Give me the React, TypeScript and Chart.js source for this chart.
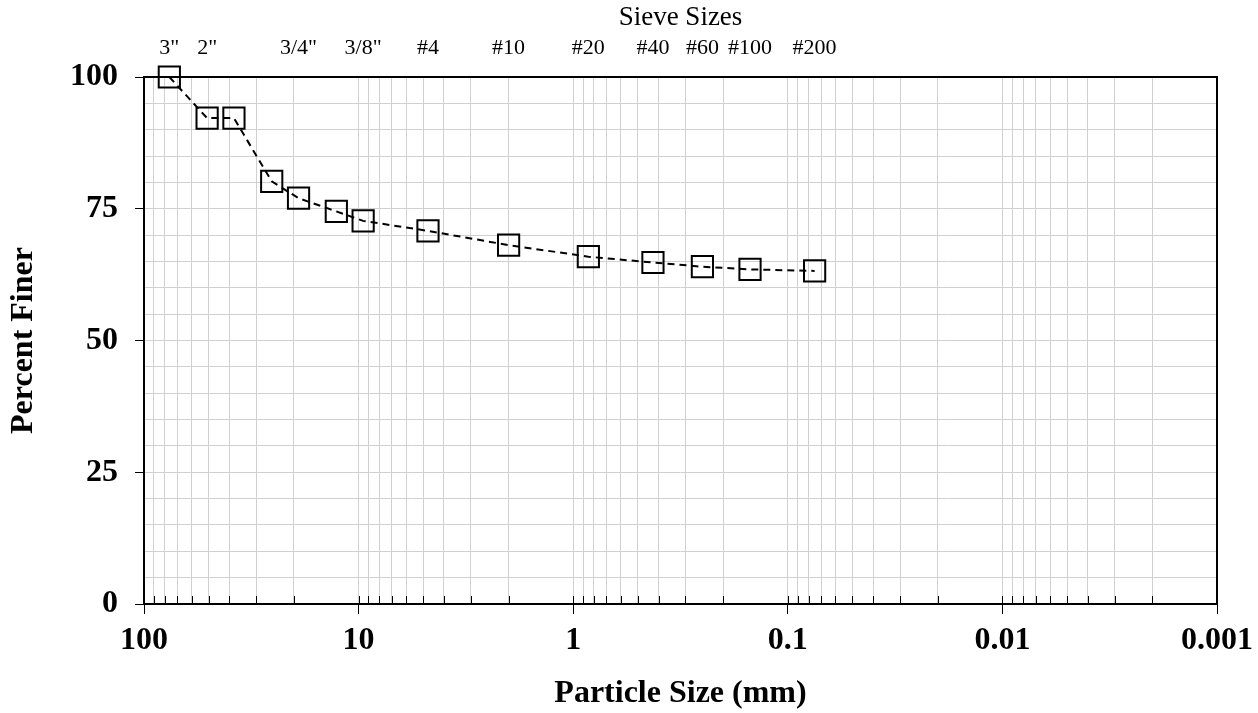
import React, { useEffect, useRef } from "react";
import { Chart, registerables } from "chart.js";

Chart.register(...registerables);

// Particle sizes (mm) of the plotted sieve results
const SIZES_MM = [76.2, 50.8, 38.1, 25.4, 19.05, 12.7, 9.525, 4.75, 2.0, 0.85, 0.425, 0.25, 0.15, 0.075];
// Percent finer for each size
const PERCENT_FINER = [100, 92.2, 92.2, 80.2, 77.0, 74.5, 72.7, 70.8, 68.1, 65.9, 64.8, 64.0, 63.5, 63.2];

// Top axis sieve labels
const SIEVE_SIZES_MM = [76.2, 50.8, 19.05, 9.525, 4.75, 2.0, 0.85, 0.425, 0.25, 0.15, 0.075];
const SIEVE_LABELS = ['3"', '2"', '3/4"', '3/8"', "#4", "#10", "#20", "#40", "#60", "#100", "#200"];

// Bottom axis decades
const DECADES = [100, 10, 1, 0.1, 0.01, 0.001];
const DECADE_LABELS = ["100", "10", "1", "0.1", "0.01", "0.001"];
const MINOR_MULTIPLIERS = [1, 2, 3, 4, 5, 6, 7, 8, 9];

// Y axis labelled ticks
const Y_LABELLED = [0, 25, 50, 75, 100];

const FONT = "'Liberation Serif', 'Times New Roman', serif";
const GRID = "#d0d0d0";

function decadeIndex(v: number): number {
  for (let i = 0; i < DECADES.length; i++) {
    if (Math.abs(v - DECADES[i]) / DECADES[i] < 1e-6) return i;
  }
  return -1;
}

function buildLogTicks(): { value: number }[] {
  const out: { value: number }[] = [];
  for (let i = DECADES.length - 1; i >= 1; i--) {
    const d = DECADES[i];
    for (const m of MINOR_MULTIPLIERS) out.push({ value: d * m });
  }
  out.push({ value: DECADES[0] });
  return out;
}

const framePlugin = {
  id: "frameAndInnerTicks",
  beforeDatasetsDraw(chart: any) {
    const { ctx, chartArea } = chart;
    const { left, right, top, bottom } = chartArea;
    const xs = chart.scales.x;
    ctx.save();
    ctx.strokeStyle = "#000";
    ctx.lineWidth = 1;
    ctx.beginPath();
    for (const t of xs.ticks) {
      const px = Math.round(xs.getPixelForValue(t.value)) + 0.5;
      ctx.moveTo(px, bottom);
      ctx.lineTo(px, bottom - 8);
    }
    ctx.stroke();
    ctx.lineWidth = 2;
    ctx.strokeRect(left, top, right - left, bottom - top);
    ctx.restore();
  },
};

export default function App() {
  const canvasRef = useRef<HTMLCanvasElement | null>(null);

  useEffect(() => {
    if (!canvasRef.current) return;
    const data = SIZES_MM.map((s, i) => ({ x: s, y: PERCENT_FINER[i] }));
    const chart = new Chart(canvasRef.current, {
      type: "scatter",
      data: {
        datasets: [
          {
            data,
            showLine: true,
            borderColor: "#000",
            borderWidth: 2,
            borderDash: [7, 5],
            tension: 0,
            pointStyle: "rect",
            pointRadius: 15,
            pointBorderWidth: 2,
            pointBorderColor: "#000",
            pointBackgroundColor: "rgba(0,0,0,0)",
            clip: false as any,
          } as any,
        ],
      },
      options: {
        animation: false,
        responsive: true,
        maintainAspectRatio: false,
        events: [],
        layout: { padding: 0 },
        plugins: { legend: { display: false }, tooltip: { enabled: false } },
        scales: {
          x: {
            type: "logarithmic",
            position: "bottom",
            min: 0.001,
            max: 100,
            reverse: true,
            afterBuildTicks: (scale: any) => {
              scale.ticks = buildLogTicks();
            },
            afterFit: (scale: any) => {
              scale.height = 109;
              scale.paddingLeft = 0;
              scale.paddingRight = 41;
            },
            ticks: {
              autoSkip: false,
              maxRotation: 0,
              minRotation: 0,
              padding: 8,
              color: "#000",
              font: { family: FONT, size: 32, weight: "bold" },
              callback: (v: any) => {
                const i = decadeIndex(Number(v));
                return i >= 0 ? DECADE_LABELS[i] : "";
              },
            },
            grid: {
              color: GRID,
              lineWidth: 1,
              tickLength: 10,
              tickWidth: 1,
              tickColor: (ctx: any) =>
                ctx.tick && decadeIndex(ctx.tick.value) >= 0 ? "#000" : "rgba(0,0,0,0)",
            },
            border: { display: false },
            title: {
              display: true,
              text: "Particle Size (mm)",
              color: "#000",
              font: { family: FONT, size: 32, weight: "bold" },
              padding: { top: 0, bottom: 0 },
            },
          },
          x2: {
            type: "logarithmic",
            axis: "x",
            position: "top",
            min: 0.001,
            max: 100,
            reverse: true,
            afterBuildTicks: (scale: any) => {
              scale.ticks = SIEVE_SIZES_MM.map((v) => ({ value: v }));
            },
            afterFit: (scale: any) => {
              scale.height = 77;
              scale.paddingLeft = 0;
              scale.paddingRight = 41;
            },
            ticks: {
              autoSkip: false,
              maxRotation: 0,
              minRotation: 0,
              padding: 16,
              color: "#000",
              font: { family: FONT, size: 22 },
              callback: (v: any) => {
                const idx = SIEVE_SIZES_MM.findIndex((s) => Math.abs(s - Number(v)) < 1e-9);
                return idx >= 0 ? SIEVE_LABELS[idx] : "";
              },
            },
            grid: { display: false, drawTicks: false },
            border: { display: false },
            title: {
              display: true,
              text: "Sieve Sizes",
              color: "#000",
              font: { family: FONT, size: 27 },
              padding: { top: 2, bottom: 0 },
            },
          } as any,
          y: {
            type: "linear",
            min: 0,
            max: 100,
            afterFit: (scale: any) => {
              scale.width = 144;
            },
            ticks: {
              stepSize: 5,
              autoSkip: false,
              padding: 17,
              color: "#000",
              font: { family: FONT, size: 32, weight: "bold" },
              callback: (v: any) => (Y_LABELLED.includes(Number(v)) ? String(v) : ""),
            },
            grid: {
              color: GRID,
              lineWidth: 1,
              tickLength: 9,
              tickWidth: 1,
              tickColor: (ctx: any) =>
                ctx.tick && Y_LABELLED.includes(ctx.tick.value) ? "#000" : "rgba(0,0,0,0)",
            },
            border: { display: false },
            title: {
              display: true,
              text: "Percent Finer",
              color: "#000",
              font: { family: FONT, size: 32, weight: "bold" },
              padding: { top: 5, bottom: 0 },
            },
          },
        },
      } as any,
      plugins: [framePlugin],
    });
    return () => chart.destroy();
  }, []);

  return (
    <div style={{ position: "absolute", left: 0, top: 0, width: 1258, height: 713 }}>
      <canvas ref={canvasRef} />
    </div>
  );
}
